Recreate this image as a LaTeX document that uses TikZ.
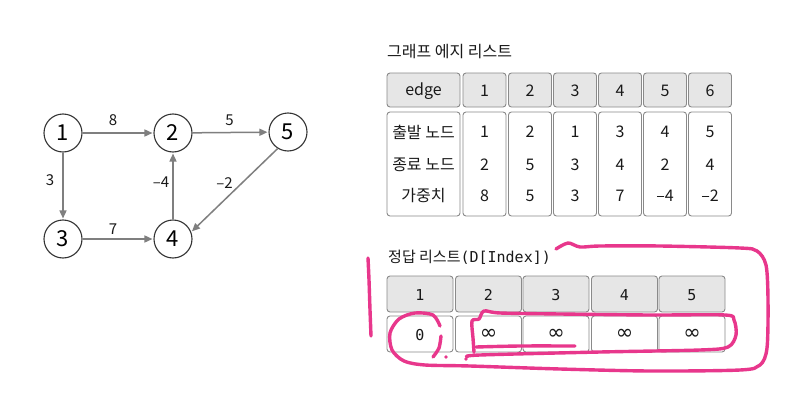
\documentclass[tikz,border=0pt]{standalone}
\usepackage{fontspec}
\setmainfont{Noto Sans CJK KR}
\newfontfamily\monofont{DejaVu Sans Mono}
\newfontfamily\symfont{DejaVu Sans}
\usetikzlibrary{arrows.meta}
\definecolor{pinkpen}{HTML}{E8378C}
\definecolor{edgegray}{HTML}{7F7F7F}
\definecolor{hdrfill}{HTML}{E6E6E6}
\definecolor{cellline}{HTML}{8A8A8A}
\definecolor{circline}{HTML}{333333}
\begin{document}
\begin{tikzpicture}[x=1pt,y=-1pt,
  vnode/.style={circle,draw=circline,line width=1.1pt,fill=white,minimum size=38pt,inner sep=0pt,
    font=\fontsize{22}{22}\selectfont},
  gedge/.style={draw=edgegray,line width=1.5pt,-{Triangle[length=8pt,width=7pt]},shorten >=1pt},
  lbl/.style={font=\fontsize{15}{15}\selectfont,text=black!90,inner sep=0pt},
  hcell/.style={draw=cellline,line width=0.9pt,fill=hdrfill,rounded corners=3pt,inner sep=0pt},
  bcell/.style={draw=cellline,line width=0.9pt,fill=white,rounded corners=3pt,inner sep=0pt},
  ttext/.style={font=\fontsize{16}{16}\selectfont,text=black!90,inner sep=0pt},
  mtext/.style={font=\monofont\fontsize{15}{15}\selectfont,text=black!90,inner sep=0pt},
  inftext/.style={font=\symfont\fontsize{21}{21}\selectfont,text=black!90,inner sep=0pt},
  title/.style={font=\fontsize{16}{16}\selectfont,text=black!90,inner sep=0pt,anchor=west},
  pen/.style={draw=pinkpen,line width=3.4pt,line cap=round,line join=round}
]
\useasboundingbox[fill=white] (0,0) rectangle (792,404);

% ---------- graph ----------
\node[vnode] (n1) at (63,133) {1};
\node[vnode] (n2) at (173,133) {2};
\node[vnode] (n5) at (288,132) {5};
\node[vnode] (n3) at (63,239) {3};
\node[vnode] (n4) at (173,239) {4};

\draw[gedge] (n1) -- (n2) node[lbl,midway,xshift=-5pt,yshift=13pt] (l8) {8};
\draw[gedge] (n2) -- (n5) node[lbl,midway,xshift=-1pt,yshift=12pt] (l5) {5};
\draw[gedge] (n1) -- (n3) node[lbl,midway,xshift=-13pt,yshift=6pt] (l3) {3};
\draw[gedge] (n3) -- (n4) node[lbl,midway,xshift=-5pt,yshift=10pt] (l7) {7};
\draw[gedge] (n4) -- (n2) node[lbl,midway,xshift=-12pt,yshift=4pt] (lm4) {–4};
\draw[gedge] (n5.238) -- (n4.21) node[lbl,midway,xshift=-10pt,yshift=7pt] (lm2) {–2};

% ---------- edge list table ----------
\node[title] (t1) at (387,52) {그래프 에지 리스트};

\node[hcell,minimum width=73pt,minimum height=34pt] (he) at (423.5,90) {};
\node[ttext] (hetext) at (423.5,91) {edge};
\node[bcell,minimum width=73pt,minimum height=104pt] (be) at (423.5,164) {};
\node[ttext] (r1) at (423.5,132) {출발 노드};
\node[ttext] (r2) at (423.5,165) {종료 노드};
\node[ttext] (r3) at (423.5,196) {가중치};

\foreach \i/\x/\a/\b/\c in {1/484.5/1/2/8, 2/530/2/5/5, 3/575/1/3/3, 4/620/3/4/7, 5/665/4/2/–4, 6/710/5/4/–2}{
  \node[hcell,minimum width=43pt,minimum height=34pt] (h\i) at (\x,90) {};
  \node[ttext] (ht\i) at (\x,91) {\i};
  \node[bcell,minimum width=43pt,minimum height=104pt] (b\i) at (\x,164) {};
  \node[ttext] (s\i) at (\x,132) {\a};
  \node[ttext] (e\i) at (\x,165) {\b};
  \node[ttext] (w\i) at (\x,196) {\c};
}

% ---------- distance list ----------
\node[title,font=\fontsize{15}{15}\selectfont] (t2) at (388,257) {정답 리스트{\monofont (D[Index])}};
\foreach \i/\x in {1/420, 2/488.5, 3/556, 4/624.5, 5/692}{
  \node[hcell,minimum width=66pt,minimum height=36pt] (dh\i) at (\x,294) {};
  \node[mtext] (dht\i) at (\x,295) {\i};
  \node[bcell,minimum width=66pt,minimum height=36pt] (db\i) at (\x,334) {};
}
\node[mtext] (dbt1) at (420,335) {0};
\foreach \i/\x in {2/488.5, 3/556, 4/624.5, 5/692}{
  \node[inftext] (dbt\i) at (\x,334) {∞};
}

% ---------- pink annotations ----------
\draw[pen] plot[smooth,tension=0.6] coordinates {(368,258) (369,280) (370,310) (371,336)};
\draw[pen] plot[smooth,tension=0.5] coordinates {
  (440,326) (433,315) (415,313) (399,319) (390,333) (392,350) (404,361) (425,365)
  (470,366) (560,369) (650,371) (740,370) (760,365) (767,348) (768,300) (766,265)
  (757,251) (740,248) (660,246) (600,246) (580,247) (568,243) (556,249)};
\draw[pen] plot[smooth,tension=0.5] coordinates {(441,336) (439,348) (433,357)};
\draw[pen] plot[smooth,tension=0.5] coordinates {
  (467,357) (480,355) (600,352) (700,350) (728,347) (736,335) (734,320) (725,315)
  (650,315) (560,314) (500,313) (484,311) (479,319) (472,321) (473,338) (474,352)};
\draw[pen] plot[smooth,tension=0.5] coordinates {(476,347) (520,346) (575,346)};
\fill[pinkpen] (446,357) circle (1.8pt);
\fill[pinkpen] (466,359) circle (1.8pt);
\end{tikzpicture}
\end{document}
